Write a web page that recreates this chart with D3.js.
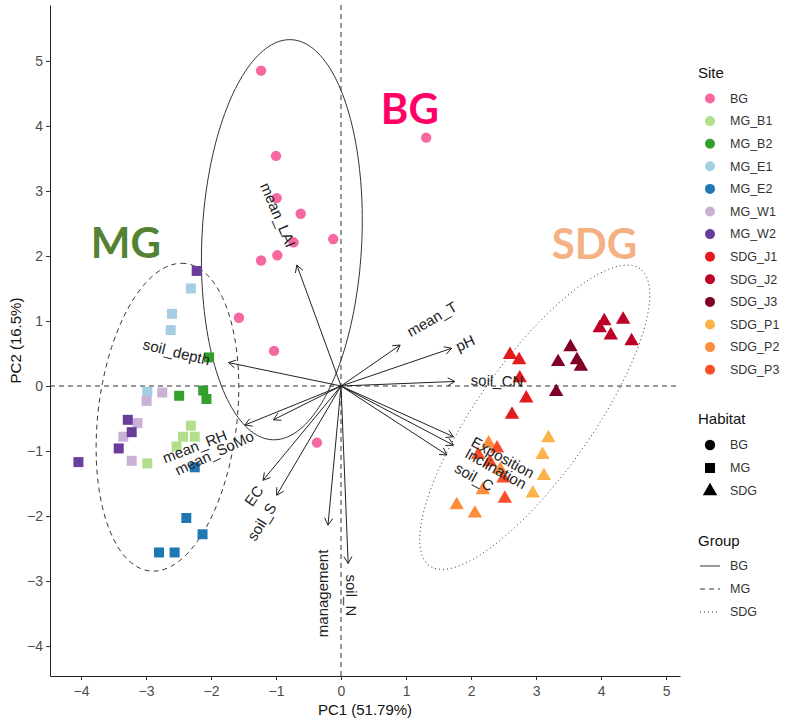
<!DOCTYPE html>
<html>
<head>
<meta charset="utf-8">
<script src="https://cdn.jsdelivr.net/npm/d3@7"></script>
<style>
  body { margin: 0; background: #fff; }
  svg { font-family: "Liberation Sans", Arial, sans-serif; }
</style>
</head>
<body>
<svg id="biplot" width="786" height="723"></svg>
<script>
// site names, colours and habitat of each site
const sites = ["BG", "MG_B1", "MG_B2", "MG_E1", "MG_E2", "MG_W1", "MG_W2",
               "SDG_J1", "SDG_J2", "SDG_J3", "SDG_P1", "SDG_P2", "SDG_P3"];
const siteColours = ["#f768a1", "#b2df8a", "#33a02c", "#a6cee3", "#1f78b4", "#cab2d6", "#6a3d9a",
                     "#e31a1c", "#bd0026", "#800026", "#feb24c", "#fd8d3c", "#fc4e2a"];
const siteHabitat = ["BG", "MG", "MG", "MG", "MG", "MG", "MG",
                     "SDG", "SDG", "SDG", "SDG", "SDG", "SDG"];

// individual scores, one list per site (same order as sites)
const pc1BySite = [
  [-1.23, 1.31, -1.00, -0.99, -0.62, -0.73, -0.12, -1.23, -0.98, -1.57, -1.03, -0.37],
  [-2.98, -2.31, -2.43, -2.25, -2.53],
  [-2.03, -2.49, -2.12, -2.07],
  [-2.31, -2.60, -2.62, -2.98],
  [-2.25, -2.38, -2.13, -2.80, -2.56],
  [-2.99, -2.75, -3.13, -3.35, -3.22],
  [-2.22, -3.28, -3.22, -3.42, -4.04],
  [2.60, 2.74, 2.85, 2.63, 2.75],
  [4.05, 4.34, 3.98, 4.15, 4.47],
  [3.53, 3.34, 3.63, 3.69, 3.31],
  [3.19, 3.10, 3.12, 2.95],
  [1.78, 2.06, 2.27, 2.18, 2.45],
  [2.52, 2.40, 2.11, 2.50, 2.29]
];
const pc2BySite = [
  [4.85, 3.82, 3.54, 2.89, 2.65, 2.21, 2.26, 1.93, 2.01, 1.05, 0.54, -0.87],
  [-1.19, -0.61, -0.78, -0.78, -0.93],
  [0.44, -0.15, -0.07, -0.20],
  [1.50, 1.11, 0.86, -0.09],
  [-1.25, -2.03, -2.28, -2.56, -2.56],
  [-0.23, -0.10, -0.57, -0.78, -1.15],
  [1.77, -0.52, -0.71, -0.96, -1.17],
  [0.48, 0.40, -0.19, -0.44, 0.12],
  [1.00, 1.02, 0.89, 0.78, 0.69],
  [0.60, 0.37, 0.40, 0.30, -0.09],
  [-0.80, -1.06, -1.38, -1.65],
  [-1.83, -1.96, -0.88, -1.60, -1.29],
  [-1.73, -0.96, -1.06, -1.42, -1.17]
];

// variable loadings (arrow tips)
const varNames = ["mean_LAI", "soil_depth", "mean_T", "pH", "soil_CN", "Exposition", "Inclination",
                  "soil_C", "mean_RH", "mean_SoMo", "EC", "soil_S", "management", "soil_N"];
const varPC1 = [-0.68, -1.73, 0.91, 1.70, 1.75, 1.73, 1.73, 1.63, -1.04, -1.48, -1.20, -0.99, -0.20, 0.11];
const varPC2 = [1.86, 0.36, 0.63, 0.58, 0.07, -0.78, -0.91, -1.06, -0.52, -0.60, -1.45, -1.68, -2.14, -2.73];

// group confidence ellipses: centre, semi-axes and tilt (degrees)
const groups = ["BG", "MG", "SDG"];
const ellCx = [-0.91, -2.67, 2.98];
const ellCy = [2.25, -0.48, -0.48];
const ellA = [3.08, 2.38, 2.80];
const ellB = [1.23, 1.07, 0.88];
const ellTilt = [87.3, 83.4, 54.7];

const xTicks = [-4, -3, -2, -1, 0, 1, 2, 3, 4, 5];
const yTicks = [-4, -3, -2, -1, 0, 1, 2, 3, 4, 5];

const svg = d3.select("#biplot");
const pLeft = 50, pRight = 680, pTop = 5, pBottom = 676;

const x = d3.scaleLinear().domain([-4.477, 5.215]).range([pLeft, pRight]);
const y = d3.scaleLinear().domain([-4.46, 5.86]).range([pBottom, pTop]);

// label placement of variable names (data units) and rotation
const varLabelX = [-0.97, -2.53, 1.40, 1.91, 2.40, 2.49, 2.38, 2.05, -2.25, -1.95, -1.34, -1.22, -0.28, 0.15];
const varLabelY = [2.63, 0.52, 1.03, 0.66, 0.08, -1.10, -1.27, -1.40, -0.93, -1.03, -1.69, -2.09, -3.19, -3.22];
const varLabelRot = [67, 14, -30, -25, 2, 29, 29, 30, -21, -25, -55, -58, -90, 90];

// reference lines through the origin
svg.append("line")
    .attr("x1", x(0)).attr("x2", x(0)).attr("y1", pTop).attr("y2", pBottom)
    .attr("stroke", "#333").attr("stroke-dasharray", "5,4");
svg.append("line")
    .attr("x1", pLeft).attr("x2", pRight).attr("y1", y(0)).attr("y2", y(0))
    .attr("stroke", "#333").attr("stroke-dasharray", "5,4");

// ellipses
const dashes = ["none", "5,4", "1,3"];
const ellLine = d3.line().x(d => x(d[0])).y(d => y(d[1]));
groups.forEach((g, i) => {
    const t = ellTilt[i] * Math.PI / 180;
    const pts = d3.range(0, 361, 2).map(a => {
        const r = a * Math.PI / 180;
        const u = ellA[i] * Math.cos(r), v = ellB[i] * Math.sin(r);
        return [ellCx[i] + u * Math.cos(t) - v * Math.sin(t),
                ellCy[i] + u * Math.sin(t) + v * Math.cos(t)];
    });
    svg.append("path")
        .attr("d", ellLine(pts))
        .attr("fill", "none")
        .attr("stroke", "#333")
        .attr("stroke-width", 1)
        .attr("stroke-dasharray", dashes[i]);
});

// points
const shapeFor = { BG: d3.symbolCircle, MG: d3.symbolSquare, SDG: d3.symbolTriangle };
const sizeFor = { BG: 85, MG: 100, SDG: 90 };
const pointData = [];
sites.forEach((s, i) => {
    pc1BySite[i].forEach((v, j) => {
        pointData.push({ site: s, colour: siteColours[i], hab: siteHabitat[i], pc1: v, pc2: pc2BySite[i][j] });
    });
});
svg.append("g").selectAll("path")
    .data(pointData)
    .join("path")
    .attr("d", d => d3.symbol().type(shapeFor[d.hab]).size(sizeFor[d.hab])())
    .attr("transform", d => `translate(${x(d.pc1)},${y(d.pc2)})`)
    .attr("fill", d => d.colour);

// arrows
const arrows = svg.append("g").attr("stroke", "#222").attr("stroke-width", 1).attr("fill", "none");
varNames.forEach((name, i) => {
    const x0 = x(0), y0 = y(0), x1 = x(varPC1[i]), y1 = y(varPC2[i]);
    const ang = Math.atan2(y1 - y0, x1 - x0);
    const len = 8, spread = Math.PI / 6;
    arrows.append("line").attr("x1", x0).attr("y1", y0).attr("x2", x1).attr("y2", y1);
    arrows.append("path")
        .attr("d", `M${x1 - len * Math.cos(ang - spread)},${y1 - len * Math.sin(ang - spread)}` +
                   `L${x1},${y1}` +
                   `L${x1 - len * Math.cos(ang + spread)},${y1 - len * Math.sin(ang + spread)}`);
});
svg.append("g").selectAll("text")
    .data(varNames)
    .join("text")
    .attr("transform", (d, i) => `translate(${x(varLabelX[i])},${y(varLabelY[i])}) rotate(${varLabelRot[i]})`)
    .attr("text-anchor", "middle")
    .attr("dy", "0.35em")
    .attr("font-size", "15px")
    .attr("fill", "#222")
    .text(d => d);

// axes
const xAxis = svg.append("g")
    .attr("transform", `translate(0,${pBottom})`)
    .call(d3.axisBottom(x).tickValues(xTicks).tickSize(4).tickSizeOuter(0));
const yAxis = svg.append("g")
    .attr("transform", `translate(${pLeft},0)`)
    .call(d3.axisLeft(y).tickValues(yTicks).tickSize(4).tickSizeOuter(0));
[xAxis, yAxis].forEach(a => {
    a.select(".domain").attr("stroke", "#222");
    a.selectAll(".tick line").attr("stroke", "#333");
    a.selectAll(".tick text").attr("fill", "#4d4d4d").attr("font-size", "14px")
        .attr("font-family", "Liberation Sans, Arial, sans-serif");
});
xAxis.selectAll(".tick text").attr("dy", "0.95em");

svg.append("text")
    .attr("x", (pLeft + pRight) / 2).attr("y", 715)
    .attr("text-anchor", "middle").attr("font-size", "15px").attr("fill", "#111")
    .text("PC1 (51.79%)");
svg.append("text")
    .attr("transform", `translate(21,${(pTop + pBottom) / 2}) rotate(-90)`)
    .attr("text-anchor", "middle").attr("font-size", "15px").attr("fill", "#111")
    .text("PC2 (16.5%)");

// big group labels
const bigLabels = ["BG", "MG", "SDG"];
const bigColours = ["#ff0066", "#548235", "#f4b183"];
const bigX = [1.06, -3.31, 3.90];
const bigY = [4.26, 2.20, 2.18];
svg.append("g").selectAll("text")
    .data(bigLabels)
    .join("text")
    .attr("x", (d, i) => x(bigX[i]))
    .attr("y", (d, i) => y(bigY[i]))
    .attr("text-anchor", "middle")
    .attr("dy", "0.36em")
    .attr("font-family", "Lato, 'Open Sans', sans-serif")
    .attr("font-weight", "bold")
    .attr("font-size", "42px")
    .attr("fill", (d, i) => bigColours[i])
    .text(d => d);

// legends
const leg = svg.append("g");
const keyX = 710, labX = 730;
leg.append("text").attr("x", 698).attr("y", 78).attr("font-size", "15px").attr("fill", "#111").text("Site");
sites.forEach((s, i) => {
    const cy = 98.5 + i * 22.6;
    leg.append("circle").attr("cx", keyX).attr("cy", cy).attr("r", 5).attr("fill", siteColours[i]);
    leg.append("text").attr("x", labX).attr("y", cy).attr("dy", "0.35em")
        .attr("font-size", "12.5px").attr("fill", "#333").text(s);
});

leg.append("text").attr("x", 698).attr("y", 424).attr("font-size", "15px").attr("fill", "#111").text("Habitat");
groups.forEach((g, i) => {
    const cy = 445 + i * 23;
    leg.append("path")
        .attr("d", d3.symbol().type(shapeFor[g]).size(sizeFor[g])())
        .attr("transform", `translate(${keyX},${cy})`)
        .attr("fill", "#000");
    leg.append("text").attr("x", labX).attr("y", cy).attr("dy", "0.35em")
        .attr("font-size", "12.5px").attr("fill", "#333").text(g);
});

leg.append("text").attr("x", 698).attr("y", 546).attr("font-size", "15px").attr("fill", "#111").text("Group");
groups.forEach((g, i) => {
    const cy = 566 + i * 23;
    leg.append("line").attr("x1", 700).attr("x2", 720).attr("y1", cy).attr("y2", cy)
        .attr("stroke", "#333").attr("stroke-width", 1).attr("stroke-dasharray", dashes[i]);
    leg.append("text").attr("x", labX).attr("y", cy).attr("dy", "0.35em")
        .attr("font-size", "12.5px").attr("fill", "#333").text(g);
});
</script>
</body>
</html>
